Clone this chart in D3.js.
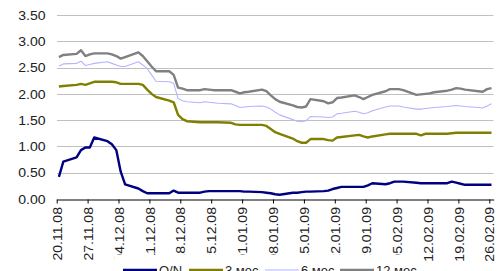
<!DOCTYPE html>
<html><head><meta charset="utf-8">
<script src="https://cdn.jsdelivr.net/npm/d3@7"></script>
<style>
html,body{margin:0;padding:0;background:#fff;}
svg{display:block;font-family:"Liberation Sans",Arial,sans-serif;}
</style></head>
<body><svg id="c" width="502" height="271"></svg>
<script>
const dates = [
"2008-11-20","2008-11-21","2008-11-24","2008-11-25","2008-11-26","2008-11-27","2008-11-28",
"2008-12-01","2008-12-02","2008-12-03","2008-12-04","2008-12-05",
"2008-12-08","2008-12-09","2008-12-10","2008-12-11","2008-12-12",
"2008-12-15","2008-12-16","2008-12-17","2008-12-18","2008-12-19",
"2008-12-22","2008-12-23","2008-12-24","2008-12-25","2008-12-26",
"2008-12-29","2008-12-30","2008-12-31","2009-01-01","2009-01-02",
"2009-01-05","2009-01-06","2009-01-07","2009-01-08","2009-01-09",
"2009-01-12","2009-01-13","2009-01-14","2009-01-15","2009-01-16",
"2009-01-19","2009-01-20","2009-01-21","2009-01-22","2009-01-23",
"2009-01-26","2009-01-27","2009-01-28","2009-01-29","2009-01-30",
"2009-02-02","2009-02-03","2009-02-04","2009-02-05","2009-02-06",
"2009-02-09","2009-02-10","2009-02-11","2009-02-12","2009-02-13",
"2009-02-16","2009-02-17","2009-02-18","2009-02-19","2009-02-20",
"2009-02-23","2009-02-24","2009-02-25","2009-02-26"];

const seriesNames = ["O/N","3 мес","6 мес","12 мес"];
const seriesColors = ["#000080","#808000","#b4b4ff","#808080"];

const valuesON = [0.42,0.71,0.79,0.93,0.98,0.98,1.17,
1.10,1.04,0.93,0.52,0.28, 0.20,0.15,0.11,0.11,0.11, 0.11,0.16,0.12,0.12,0.12,
0.12,0.14,0.15,0.15,0.15, 0.15,0.15,0.15,0.14,0.14, 0.13,0.12,0.11,0.09,0.08,
0.12,0.12,0.13,0.14,0.14, 0.15,0.16,0.19,0.21,0.23, 0.23,0.23,0.23,0.26,0.30,
0.28,0.30,0.33,0.33,0.33, 0.31,0.30,0.30,0.30,0.30, 0.30,0.33,0.31,0.29,0.27,
0.27,0.27,0.27,0.27];
const values3m = [2.14,2.15,2.17,2.19,2.17,2.20,2.23,
2.23,2.23,2.22,2.19,2.19, 2.19,2.17,2.08,2.00,1.94, 1.87,1.84,1.60,1.52,1.48,
1.46,1.46,1.46,1.46,1.46, 1.45,1.42,1.41,1.41,1.41, 1.41,1.39,1.33,1.27,1.24,
1.15,1.10,1.07,1.07,1.14, 1.14,1.12,1.11,1.17,1.18, 1.21,1.22,1.19,1.17,1.19,
1.23,1.24,1.24,1.24,1.24, 1.24,1.21,1.24,1.24,1.24, 1.24,1.25,1.26,1.26,1.26,
1.26,1.26,1.26,1.26];
const values6m = [2.53,2.57,2.58,2.62,2.54,2.56,2.58,
2.61,2.58,2.55,2.52,2.52, 2.61,2.55,2.48,2.36,2.24, 2.23,2.20,1.91,1.87,1.85,
1.83,1.85,1.84,1.83,1.82, 1.81,1.78,1.74,1.75,1.76, 1.77,1.75,1.71,1.65,1.60,
1.51,1.48,1.47,1.49,1.57, 1.56,1.55,1.56,1.62,1.63, 1.67,1.65,1.62,1.64,1.68,
1.75,1.77,1.77,1.77,1.75, 1.71,1.71,1.72,1.73,1.74, 1.76,1.77,1.78,1.77,1.76,
1.74,1.73,1.77,1.81];
const values12m = [2.70,2.74,2.76,2.83,2.72,2.75,2.77,
2.77,2.75,2.72,2.67,2.70, 2.79,2.72,2.62,2.52,2.43, 2.43,2.36,2.12,2.10,2.07,
2.07,2.09,2.08,2.07,2.07, 2.07,2.04,2.01,2.03,2.04, 2.08,2.05,1.97,1.90,1.85,
1.78,1.75,1.74,1.76,1.90, 1.86,1.82,1.84,1.92,1.93, 1.97,1.94,1.90,1.94,1.98,
2.05,2.09,2.09,2.09,2.07, 1.98,1.99,2.00,2.01,2.03, 2.06,2.08,2.11,2.10,2.08,
2.05,2.04,2.09,2.11];

const yTicks = [0,0.5,1,1.5,2,2.5,3,3.5];
const xTickDates = ["2008-11-20","2008-11-27","2008-12-04","2008-12-11","2008-12-18","2008-12-25",
"2009-01-01","2009-01-08","2009-01-15","2009-01-22","2009-01-29","2009-02-05","2009-02-12",
"2009-02-19","2009-02-26"];

const parse = d3.utcParse("%Y-%m-%d");
const fmt = d3.utcFormat("%d.%m.%y");
const svg = d3.select("#c");

const x = d3.scaleUtc().domain([parse("2008-11-20"), parse("2009-02-27")]).range([56.7, 493.7]);
const y = d3.scaleLinear().domain([0, 3.5]).range([199, 15]);

// gridlines
svg.append("g").selectAll("line").data(yTicks.filter(d => d > 0)).join("line")
  .attr("x1", 57).attr("x2", 493.5)
  .attr("y1", d => Math.round(y(d)) + 0.5).attr("y2", d => Math.round(y(d)) + 0.5)
  .attr("stroke", "#c0c0c0").attr("stroke-width", 1);

// y labels
svg.append("g").selectAll("text").data(yTicks).join("text")
  .attr("x", 45.5).attr("y", d => y(d)).attr("dy", "0.36em")
  .attr("text-anchor", "end").attr("font-size", 13).attr("fill", "#222")
  .attr("transform", d => `translate(45.5,${y(d)}) scale(1.08,1) translate(-45.5,${-y(d)})`)
  .text(d => d3.format(".2f")(d));

// x axis
const xAxis = d3.axisBottom(x).tickValues(xTickDates.map(parse)).tickFormat(fmt).tickSize(4).tickSizeOuter(0);
const gx = svg.append("g").attr("transform", "translate(0,199.5)").call(xAxis);
gx.select(".domain").attr("stroke", "#000");
gx.selectAll(".tick line").attr("stroke", "#000");
gx.selectAll(".tick text")
  .attr("font-size", 13).attr("font-family", "Liberation Sans, Arial, sans-serif").attr("fill", "#222")
  .attr("text-anchor", "end").attr("y", 0).attr("x", -7).attr("dy", "0.36em")
  .attr("transform", "rotate(-90) scale(1.08,1)");

// lines
const allSeries = [valuesON, values3m, values6m, values12m];
const widths = [2.4, 2.4, 1.1, 2.4];
const line = d3.line().x(d => x(d[0]) + x(parse("2008-11-21")) / 2 - x(parse("2008-11-20")) / 2).y(d => y(d[1]));
const dayHalf = (x(parse("2008-11-21")) - x(parse("2008-11-20"))) / 2;
const line2 = d3.line().x(d => x(d[0]) + dayHalf).y(d => y(d[1]));
allSeries.forEach((vals, i) => {
  svg.append("path")
    .datum(dates.map((d, j) => [parse(d), vals[j]]))
    .attr("fill", "none").attr("stroke", seriesColors[i]).attr("stroke-width", widths[i])
    .attr("stroke-linejoin", "round")
    .attr("d", line2);
});

// legend
const lg = svg.append("g");
lg.append("rect").attr("x", 115).attr("y", 255).attr("width", 292).attr("height", 20).attr("fill", "#fff");
const legX = [123, 189, 265, 340];
seriesNames.forEach((n, i) => {
  lg.append("line").attr("x1", legX[i]).attr("x2", legX[i] + 34).attr("y1", 270).attr("y2", 270)
    .attr("stroke", seriesColors[i]).attr("stroke-width", widths[i]);
  lg.append("text").attr("x", legX[i] + 36).attr("y", 274.5).attr("font-size", 13).attr("fill", "#222")
    .text(n);
});
</script></body></html>
